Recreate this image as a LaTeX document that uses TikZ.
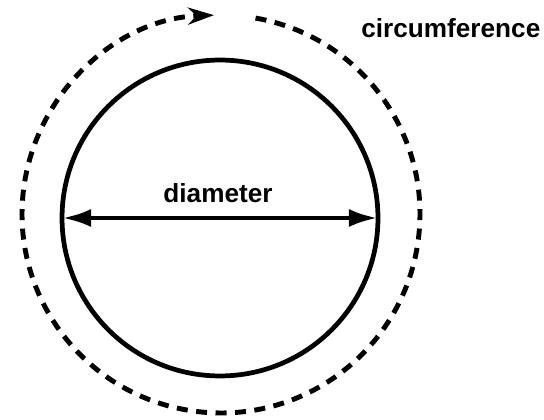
\documentclass[tikz,border=0pt]{standalone}
\usepackage{fontspec}
\setmainfont{Liberation Sans}
\usetikzlibrary{arrows.meta,positioning,calc}
\tikzset{
  cl/disk/.style={draw, circle, line width=2.7pt, outer sep=0pt, inner sep=0pt, minimum size=6.32cm},
  cl/ring/.style={line width=2.8pt, dash pattern=on 0.22cm off 0.17cm},
  cl/dim/.style={line width=2.8pt, {Latex[length=0.58cm,width=0.36cm]}-{Latex[length=0.58cm,width=0.36cm]}},
  cl/label/.style={font=\bfseries\fontsize{14.9}{17}\selectfont, inner sep=0pt}
}

\begin{document}
\begin{tikzpicture}[x=0.02cm, y=0.02cm]
  \useasboundingbox (0,0) rectangle (544,419);
  % circle and its outer ring
  \node[cl/disk] (disk) at (220,201) {};
  \coordinate (ringc) at (221,205);
  \coordinate (ringstart) at ($(ringc)+(80:3.98cm)$);
  \draw[cl/ring, -{Stealth[length=0.52cm,width=0.34cm]}] (ringstart) arc[start angle=80, end angle=-268, radius=3.98cm];

  \draw[cl/dim] (disk.west) -- (disk.east);

  \node[cl/label, anchor=base] (diam) at (218,216) {diameter};
  \node[cl/label, anchor=base west] (circ) at (361,381) {circumference};
\end{tikzpicture}
\end{document}
